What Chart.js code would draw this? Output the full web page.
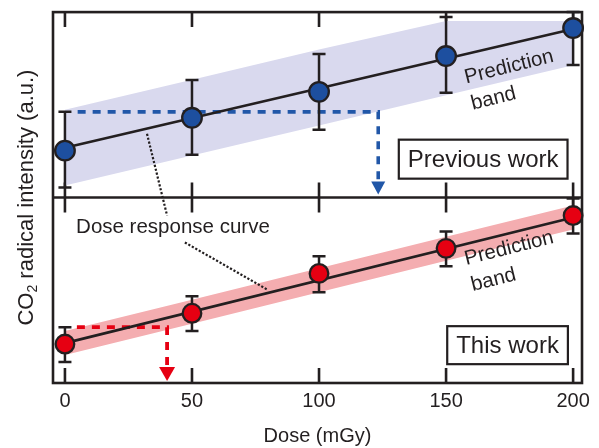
<!DOCTYPE html>
<html><head><meta charset="utf-8">
<script src="https://cdn.jsdelivr.net/npm/chart.js@4.4.1/dist/chart.umd.min.js"></script>
<style>html,body{margin:0;padding:0;background:#fff}#wrap{width:599px;height:448px;position:relative}</style>
</head><body><div id="wrap"><canvas id="c" width="599" height="448"></canvas></div>
<script>
// ---- data (a.u.) ----
const doses = [0, 50, 100, 150, 200];
const xTickLabels = ['0', '50', '100', '150', '200'];

// Previous work (top panel)
const prevValues    = [2.53, 4.30, 5.70, 7.63, 9.14];
const prevErrHigh   = [4.62, 6.34, 7.74, 9.73, 10.0];
const prevErrLow    = [0.54, 2.31, 3.66, 5.65, 7.15];
const prevFitDose   = [0, 200];
const prevFitValue  = [2.69, 9.09];
const prevBandUpper = [4.73, 6.35, 7.98, 9.52, 9.52];
const prevBandLower = [0.65, 2.27, 3.89, 5.52, 7.14];
const prevReadDose  = [5, 123.3, 123.3];
const prevReadValue = [4.62, 4.62, 0.9];
const prevArrowTip  = 0.16;

// This work (bottom panel)
const thisValues    = [2.10, 3.76, 5.91, 7.26, 9.03];
const thisErrHigh   = [3.01, 4.68, 6.83, 8.17, 9.95];
const thisErrLow    = [1.13, 2.80, 4.89, 6.29, 8.06];
const thisFitDose   = [0, 200];
const thisFitValue  = [2.15, 8.92];
const thisBandUpper = [2.80, 4.49, 6.19, 7.88, 9.57];
const thisBandLower = [1.51, 3.20, 4.89, 6.59, 8.28];
const thisReadDose  = [4.7, 40.2, 40.2];
const thisReadValue = [3.01, 3.01, 0.85];
const thisArrowTip  = 0.11;

const INK = '#231f20';
const BLUE = '#1d4f9f', BLUE_DASH = '#2157a8', LAVENDER = '#d9d9ee';
const RED = '#e60012', PINK = '#f4adb0';
const FONT = "'Liberation Sans', Arial, Helvetica, sans-serif";

const pts = (xs, ys) => xs.map((x, i) => ({x, y: ys[i]}));
const px = (chart, axis, v) => chart.scales[axis].getPixelForValue(v);

const errorBars = {
  id: 'errorBars',
  beforeDatasetDraw(chart, args) {
    const ds = chart.data.datasets[args.index];
    if (!ds.errLow) return;
    const ctx = chart.ctx, ax = ds.yAxisID;
    ctx.save();
    ctx.strokeStyle = INK; ctx.lineWidth = 2.5; ctx.lineCap = 'butt';
    doses.forEach((d, i) => {
      const x = px(chart, 'x', d);
      const y1 = px(chart, ax, ds.errLow[i]), y2 = px(chart, ax, ds.errHigh[i]);
      ctx.beginPath();
      ctx.moveTo(x, y1); ctx.lineTo(x, y2);
      ctx.moveTo(x - 6.5, y1); ctx.lineTo(x + 6.5, y1);
      ctx.moveTo(x - 6.5, y2); ctx.lineTo(x + 6.5, y2);
      ctx.stroke();
    });
    ctx.restore();
  }
};

const frame = {
  id: 'frame',
  beforeDatasetsDraw(chart) {
    const ctx = chart.ctx, a = chart.chartArea;
    const top = chart.scales.yTop, bot = chart.scales.yBot;
    ctx.save();
    ctx.strokeStyle = INK; ctx.lineWidth = 2.6; ctx.lineCap = 'butt';
    ctx.strokeRect(a.left, a.top, a.right - a.left, a.bottom - a.top);
    ctx.beginPath(); ctx.moveTo(a.left, top.bottom); ctx.lineTo(a.right, top.bottom); ctx.stroke();
    const L = 15;
    ctx.beginPath();
    doses.forEach(d => {
      const x = px(chart, 'x', d);
      ctx.moveTo(x, top.top); ctx.lineTo(x, top.top + L);
      ctx.moveTo(x, top.bottom - L); ctx.lineTo(x, top.bottom);
      ctx.moveTo(x, bot.top); ctx.lineTo(x, bot.top + L);
      ctx.moveTo(x, bot.bottom - L); ctx.lineTo(x, bot.bottom);
    });
    ctx.stroke();
    ctx.restore();
  }
};

function arrowHead(ctx, x, yTip, w, h, color) {
  ctx.fillStyle = color;
  ctx.beginPath(); ctx.moveTo(x, yTip); ctx.lineTo(x - w / 2, yTip - h); ctx.lineTo(x + w / 2, yTip - h); ctx.closePath(); ctx.fill();
}
function boxedText(ctx, text, cx, cy, h) {
  ctx.font = '24px ' + FONT;
  const w = ctx.measureText(text).width + 18;
  ctx.fillStyle = '#fff'; ctx.fillRect(cx - w / 2, cy - h / 2, w, h);
  ctx.strokeStyle = INK; ctx.lineWidth = 2.2; ctx.strokeRect(cx - w / 2, cy - h / 2, w, h);
  ctx.fillStyle = INK; ctx.textAlign = 'center'; ctx.textBaseline = 'middle';
  ctx.fillText(text, cx, cy + 1);
}
function bandLabel(ctx, cx, cy) {
  ctx.save();
  ctx.translate(cx, cy); ctx.rotate(-14 * Math.PI / 180);
  ctx.font = '20.5px ' + FONT; ctx.fillStyle = INK; ctx.textBaseline = 'middle';
  const w = ctx.measureText('Prediction').width;
  ctx.textAlign = 'left';
  ctx.fillText('Prediction', -w / 2, 0);
  ctx.fillText('band', -w / 2, 27);
  ctx.restore();
}

const notes = {
  id: 'notes',
  afterDatasetsDraw(chart) {
    const ctx = chart.ctx;
    ctx.save();
    // arrow heads
    arrowHead(ctx, px(chart, 'x', prevReadDose[2]), px(chart, 'yTop', prevArrowTip), 14, 13, BLUE_DASH);
    arrowHead(ctx, px(chart, 'x', thisReadDose[2]), px(chart, 'yBot', thisArrowTip), 16, 14, RED);
    // dotted leader lines
    ctx.strokeStyle = INK; ctx.lineWidth = 2.2; ctx.setLineDash([2.2, 1.8]);
    ctx.beginPath();
    ctx.moveTo(px(chart, 'x', 32.3), px(chart, 'yTop', 3.44));
    ctx.lineTo(px(chart, 'x', 40.2), px(chart, 'yBot', 9.03));
    ctx.moveTo(px(chart, 'x', 47.2), px(chart, 'yBot', 7.58));
    ctx.lineTo(px(chart, 'x', 79.5), px(chart, 'yBot', 5.05));
    ctx.stroke();
    ctx.setLineDash([]);
    // texts
    ctx.font = '20.5px ' + FONT; ctx.fillStyle = INK; ctx.textAlign = 'center'; ctx.textBaseline = 'middle';
    ctx.fillText('Dose response curve', px(chart, 'x', 42.5), px(chart, 'yBot', 8.39));
    boxedText(ctx, 'Previous work', px(chart, 'x', 164.6), px(chart, 'yTop', 2.07), 39);
    boxedText(ctx, 'This work', px(chart, 'x', 174.2), px(chart, 'yBot', 2.04), 38);
    bandLabel(ctx, px(chart, 'x', 174.8), px(chart, 'yTop', 7.04));
    bandLabel(ctx, px(chart, 'x', 174.8), px(chart, 'yBot', 7.26));
    ctx.restore();
  },
  afterDraw(chart) {
    const ctx = chart.ctx;
    const cy = (chart.chartArea.top + chart.chartArea.bottom) / 2 + 0;
    ctx.save();
    ctx.translate(27, cy); ctx.rotate(-Math.PI / 2);
    ctx.fillStyle = INK; ctx.textBaseline = 'middle';
    const big = '22px ' + FONT, small = '14px ' + FONT;
    ctx.font = big; const w1 = ctx.measureText('CO').width;
    ctx.font = small; const w2 = ctx.measureText('2').width;
    ctx.font = big; const w3 = ctx.measureText(' radical intensity (a.u.)').width;
    let x = -(w1 + w2 + w3) / 2;
    ctx.textAlign = 'left';
    ctx.fillText('CO', x, 0); x += w1;
    ctx.font = small; ctx.fillText('2', x, 6); x += w2;
    ctx.font = big; ctx.fillText(' radical intensity (a.u.)', x, 0);
    ctx.restore();
  }
};

const hideY = {
  display: true, min: 0, max: 10, position: 'left', stack: 'panels', stackWeight: 1,
  ticks: {display: false}, grid: {display: false, drawTicks: false}, border: {display: false},
  afterFit(s) { s.width = 0; }
};

new Chart(document.getElementById('c'), {
  type: 'line',
  data: {
    datasets: [
      // top panel
      {data: pts(doses, prevBandUpper), yAxisID: 'yTop', fill: '+1', backgroundColor: LAVENDER, borderColor: 'rgba(0,0,0,0)', pointRadius: 0, order: 6},
      {data: pts(doses, prevBandLower), yAxisID: 'yTop', fill: false, borderColor: 'rgba(0,0,0,0)', pointRadius: 0, order: 6},
      {data: pts(prevReadDose, prevReadValue), yAxisID: 'yTop', borderColor: BLUE_DASH, borderWidth: 3.6, borderDash: [8, 7], borderCapStyle: 'butt', pointRadius: 0, order: 4},
      {data: pts(prevFitDose, prevFitValue), yAxisID: 'yTop', borderColor: INK, borderWidth: 2.6, pointRadius: 0, order: 3},
      {data: pts(doses, prevValues), yAxisID: 'yTop', showLine: false, pointRadius: 9.8, pointBorderWidth: 2.3,
       pointBackgroundColor: BLUE, pointBorderColor: INK, clip: false, order: 1, errLow: prevErrLow, errHigh: prevErrHigh},
      // bottom panel
      {data: pts(doses, thisBandUpper), yAxisID: 'yBot', fill: '+1', backgroundColor: PINK, borderColor: 'rgba(0,0,0,0)', pointRadius: 0, order: 6},
      {data: pts(doses, thisBandLower), yAxisID: 'yBot', fill: false, borderColor: 'rgba(0,0,0,0)', pointRadius: 0, order: 6},
      {data: pts(thisReadDose, thisReadValue), yAxisID: 'yBot', borderColor: RED, borderWidth: 3.8, borderDash: [8, 7], borderCapStyle: 'butt', pointRadius: 0, order: 4},
      {data: pts(thisFitDose, thisFitValue), yAxisID: 'yBot', borderColor: INK, borderWidth: 2.6, pointRadius: 0, order: 3},
      {data: pts(doses, thisValues), yAxisID: 'yBot', showLine: false, pointRadius: 9.3, pointBorderWidth: 2.3,
       pointBackgroundColor: RED, pointBorderColor: INK, clip: false, order: 1, errLow: thisErrLow, errHigh: thisErrHigh}
    ]
  },
  options: {
    responsive: false, animation: false, events: [],
    layout: {padding: {left: 53, top: 11, right: 17, bottom: 0}},
    elements: {line: {tension: 0}},
    plugins: {legend: {display: false}, tooltip: {enabled: false}},
    scales: {
      x: {
        type: 'linear', min: -4.7, max: 203.5,
        afterBuildTicks(s) { s.ticks = doses.map(v => ({value: v})); },
        ticks: {callback: (v, i) => xTickLabels[i], color: INK, font: {family: FONT, size: 20}, padding: 6, maxRotation: 0},
        grid: {display: false, drawTicks: false}, border: {display: false},
        title: {display: true, text: 'Dose (mGy)', color: INK, font: {family: FONT, size: 20}, padding: {top: 0, bottom: 0}},
        afterFit(s) { s.height = 65; }
      },
      yBot: Object.assign({}, hideY),
      yTop: Object.assign({}, hideY)
    }
  },
  plugins: [frame, errorBars, notes]
});
</script>
</body></html>
